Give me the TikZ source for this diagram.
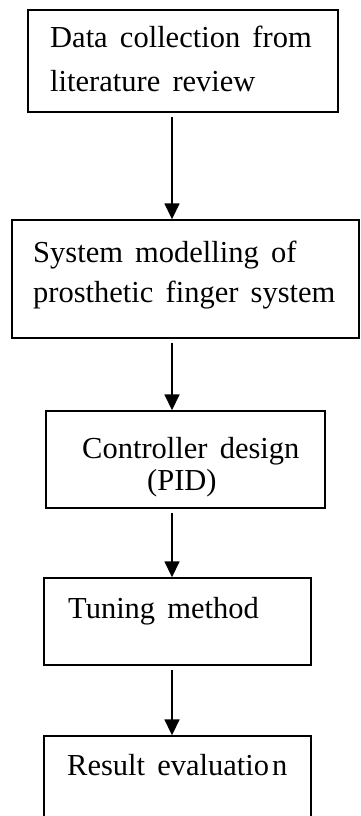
\documentclass[tikz,border=0pt]{standalone}
\usepackage{fontspec}
\setmainfont{Liberation Serif}[WordSpace=1.6]
\usetikzlibrary{arrows.meta}
\begin{document}
\begin{tikzpicture}[x=1pt,y=-1pt,
  stepbox/.style={draw=black,line width=1.4pt,rectangle,inner sep=0pt},
  txt/.style={anchor=base west,inner sep=0pt,font=\fontsize{30.5}{36}\selectfont},
  arr/.style={line width=1.6pt,-{Triangle[length=16pt,width=15pt]},shorten <=4pt}]
\useasboundingbox (0,0) rectangle (361,816);
\clip (0,0) rectangle (361,816);
% boxes
\node[stepbox,minimum width=310pt,minimum height=102pt] (b1) at (183,61) {};
\node[stepbox,minimum width=347pt,minimum height=118pt] (b2) at (185.5,279) {};
\node[stepbox,minimum width=279pt,minimum height=97pt] (b3) at (185.5,459.5) {};
\node[stepbox,minimum width=267pt,minimum height=87pt] (b4) at (177.5,621.5) {};
\node[stepbox,minimum width=267pt,minimum height=104pt] (b5) at (177.5,788) {};
% texts
\node[txt] (t1a) at (50,48) {Data collection from};
\node[txt] (t1b) at (50,92) {literature review};
\node[txt] (t2a) at (33,262) {System modelling of};
\node[txt] (t2b) at (33,302) {prosthetic finger system};
\node[txt] (t3a) at (82,458) {Controller design};
\node[txt] (t3b) at (147,490) {(PID)};
\node[txt] (t4) at (68,618) {Tuning method};
\node[txt] (t5) at (67,775) {Result evaluatio\kern3pt n};
% connectors
\coordinate (ax) at (172,0);
\draw[arr] (b1.south -| ax) -- (b2.north -| ax);
\draw[arr] (b2.south -| ax) -- (b3.north -| ax);
\draw[arr] (b3.south -| ax) -- (b4.north -| ax);
\draw[arr] (b4.south -| ax) -- (b5.north -| ax);
\end{tikzpicture}
\end{document}
